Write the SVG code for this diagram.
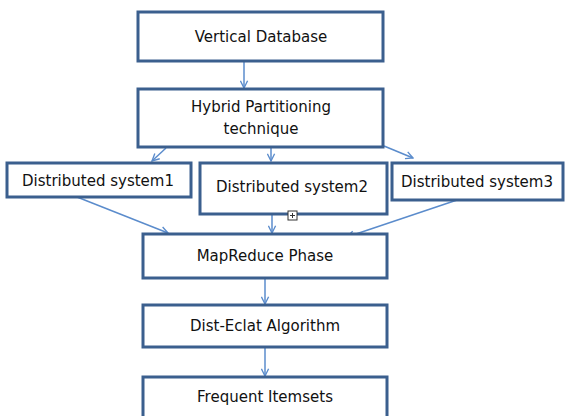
<svg xmlns="http://www.w3.org/2000/svg" width="567" height="416" viewBox="0 0 567 416">
<style>
.box{fill:#fff;stroke:#3b5f8e;stroke-width:3}
.t{font-family:"DejaVu Sans","Liberation Sans",sans-serif;font-size:15px;fill:#111;text-anchor:middle}
.c{stroke:#5b8ccc;stroke-width:1.5;fill:none;marker-end:url(#ah)}
</style>
<defs>
<marker id="ah" viewBox="0 0 10 10" refX="9" refY="5" markerWidth="9" markerHeight="9" markerUnits="userSpaceOnUse" orient="auto">
<path d="M1,1 L9,5 L1,9" fill="none" stroke="#5b8ccc" stroke-width="1.5"/>
</marker>
</defs>
<rect width="567" height="416" fill="#fff"/>
<g id="connectors">
<line class="c" x1="244" y1="61" x2="244" y2="88"/>
<line class="c" x1="166" y1="148" x2="152" y2="161"/>
<line class="c" x1="271" y1="148" x2="271" y2="161"/>
<line class="c" x1="384" y1="146" x2="413" y2="158"/>
<line class="c" x1="77" y1="197" x2="168" y2="233"/>
<line class="c" x1="272" y1="214" x2="272" y2="233"/>
<line class="c" x1="463" y1="198" x2="347" y2="237"/>
<line class="c" x1="265" y1="278" x2="265" y2="304"/>
<line class="c" x1="265" y1="347" x2="265" y2="376"/>
</g>
<g id="n1"><rect class="box" x="138" y="12" width="245" height="49"/><text class="t" x="261" y="42">Vertical Database</text></g>
<g id="n2"><rect class="box" x="138" y="89" width="245" height="58"/><text class="t" x="261" y="112">Hybrid Partitioning</text><text class="t" x="261" y="134">technique</text></g>
<g id="n3"><rect class="box" x="7" y="163" width="184" height="34"/><text class="t" x="98" y="186">Distributed system1</text></g>
<g id="n4"><rect class="box" x="200" y="163" width="187" height="51"/><text class="t" x="292" y="192">Distributed system2</text>
<rect x="288" y="211" width="9" height="9" fill="#fff" stroke="#333" stroke-width="1"/><path d="M292.5,213 V218 M290,215.5 H295" stroke="#333" stroke-width="1"/></g>
<g id="n5"><rect class="box" x="392" y="163" width="171" height="37"/><text class="t" x="477" y="187">Distributed system3</text></g>
<g id="n6"><rect class="box" x="143" y="234" width="244" height="44"/><text class="t" x="265" y="261">MapReduce Phase</text></g>
<g id="n7"><rect class="box" x="143" y="305" width="244" height="42"/><text class="t" x="265" y="331">Dist-Eclat Algorithm</text></g>
<g id="n8"><rect class="box" x="143" y="377" width="244" height="50"/><text class="t" x="265" y="402">Frequent Itemsets</text></g>
</svg>
